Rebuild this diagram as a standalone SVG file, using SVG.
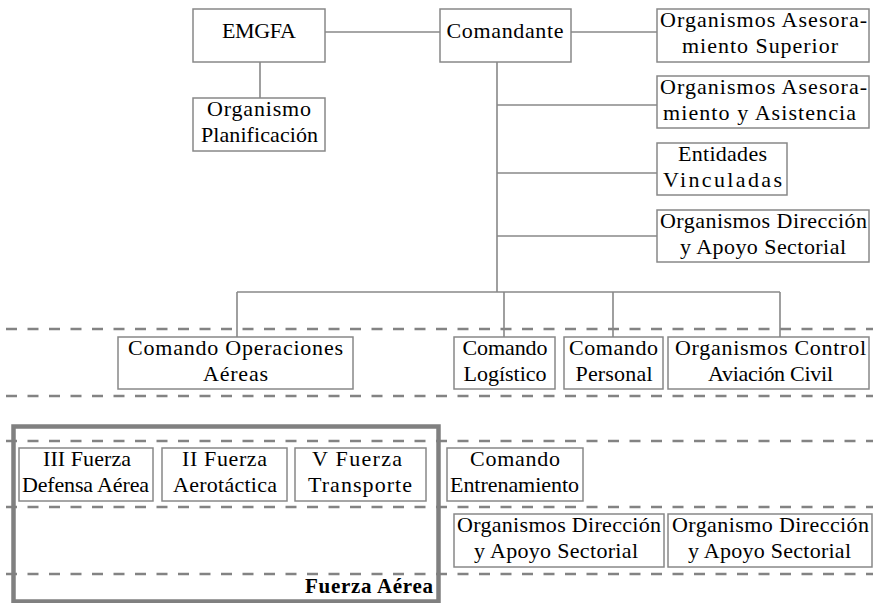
<svg xmlns="http://www.w3.org/2000/svg" width="873" height="603" viewBox="0 0 873 603">
<style>
.bx{fill:#fff;stroke:#888;stroke-width:1.5}
.t{font-family:"Liberation Serif","Times New Roman",serif;font-size:22px;fill:#000;text-anchor:middle}
.b{font-family:"Liberation Serif","Times New Roman",serif;font-size:21px;font-weight:bold;fill:#000;text-anchor:end}
.ln{stroke:#888;stroke-width:1.6;fill:none}
.dash{stroke:#838383;stroke-width:2.6;stroke-dasharray:11 10.5;fill:none}
</style>
<rect width="873" height="603" fill="#fff"/>
<g id="bands">
<line class="dash" x1="6" y1="329" x2="873" y2="329"/>
<line class="dash" x1="6" y1="396" x2="873" y2="396"/>
<line class="dash" x1="6" y1="441" x2="873" y2="441"/>
<line class="dash" x1="6" y1="507" x2="873" y2="507"/>
<line class="dash" x1="6" y1="574" x2="873" y2="574"/>
</g>
<g id="connectors">
<line class="ln" x1="325" y1="32" x2="440" y2="32"/>
<line class="ln" x1="571" y1="32" x2="657" y2="32"/>
<line class="ln" x1="260" y1="62" x2="260" y2="98"/>
<line class="ln" x1="497" y1="62" x2="497" y2="292"/>
<line class="ln" x1="497" y1="105" x2="657" y2="105"/>
<line class="ln" x1="497" y1="173" x2="657" y2="173"/>
<line class="ln" x1="497" y1="236" x2="657" y2="236"/>
<line class="ln" x1="237" y1="292" x2="780" y2="292"/>
<line class="ln" x1="237" y1="292" x2="237" y2="337"/>
<line class="ln" x1="504" y1="292" x2="504" y2="337"/>
<line class="ln" x1="613" y1="292" x2="613" y2="337"/>
<line class="ln" x1="780" y1="292" x2="780" y2="337"/>
</g>
<g id="fuerza-aerea">
<rect x="13.5" y="426.5" width="425" height="175" fill="none" stroke="#808080" stroke-width="4.5"/>
<text class="b" x="433" y="593" textLength="128">Fuerza Aérea</text>
</g>
<g id="emgfa">
<rect class="bx" x="193" y="9" width="132" height="53"/>
<text class="t" x="259" y="38" textLength="74">EMGFA</text>
</g>
<g id="comandante">
<rect class="bx" x="440" y="9" width="131" height="53"/>
<text class="t" x="505" y="38" textLength="117">Comandante</text>
</g>
<g id="org-planificacion">
<rect class="bx" x="193" y="98" width="132" height="53"/>
<text class="t" x="259" y="116" textLength="104">Organismo</text>
<text class="t" x="259.5" y="142" textLength="117">Planificación</text>
</g>
<g id="org-asesor-superior">
<rect class="bx" x="657" y="9" width="212" height="53"/>
<text class="t" x="763.5" y="27" textLength="207">Organismos Asesora-</text>
<text class="t" x="760" y="53" textLength="156">miento Superior</text>
</g>
<g id="org-asesor-asistencia">
<rect class="bx" x="657" y="76" width="212" height="52"/>
<text class="t" x="763.5" y="94" textLength="207">Organismos Asesora-</text>
<text class="t" x="759.5" y="120" textLength="193">miento y Asistencia</text>
</g>
<g id="entidades">
<rect class="bx" x="657" y="143" width="130" height="52"/>
<text class="t" x="722.5" y="161" textLength="89">Entidades</text>
<text class="t" x="722.5" y="187" textLength="119">Vinculadas</text>
</g>
<g id="org-direccion-top">
<rect class="bx" x="657" y="210" width="212" height="52"/>
<text class="t" x="763.5" y="228" textLength="207">Organismos Dirección</text>
<text class="t" x="763" y="254" textLength="166">y Apoyo Sectorial</text>
</g>
<g id="comando-operaciones">
<rect class="bx" x="118" y="337" width="235" height="52"/>
<text class="t" x="235.5" y="355" textLength="215">Comando Operaciones</text>
<text class="t" x="235.5" y="381" textLength="65">Aéreas</text>
</g>
<g id="comando-logistico">
<rect class="bx" x="454" y="337" width="101" height="52"/>
<text class="t" x="505" y="355" textLength="85">Comando</text>
<text class="t" x="505" y="381" textLength="83">Logístico</text>
</g>
<g id="comando-personal">
<rect class="bx" x="564" y="337" width="99" height="52"/>
<text class="t" x="613.5" y="355" textLength="89">Comando</text>
<text class="t" x="614" y="381" textLength="77">Personal</text>
</g>
<g id="org-control">
<rect class="bx" x="668" y="337" width="201" height="52"/>
<text class="t" x="770.5" y="355" textLength="191">Organismos Control</text>
<text class="t" x="770.5" y="381" textLength="125">Aviación Civil</text>
</g>
<g id="iii-fuerza">
<rect class="bx" x="19" y="448" width="134" height="53"/>
<text class="t" x="87" y="466" textLength="88">III Fuerza</text>
<text class="t" x="85.5" y="492" textLength="127">Defensa Aérea</text>
</g>
<g id="ii-fuerza">
<rect class="bx" x="162" y="448" width="125" height="53"/>
<text class="t" x="224.5" y="466" textLength="85">II Fuerza</text>
<text class="t" x="225" y="492" textLength="104">Aerotáctica</text>
</g>
<g id="v-fuerza">
<rect class="bx" x="295" y="448" width="131" height="53"/>
<text class="t" x="357" y="466" textLength="90">V Fuerza</text>
<text class="t" x="360" y="492" textLength="104">Transporte</text>
</g>
<g id="comando-entrenamiento">
<rect class="bx" x="447" y="448" width="136" height="53"/>
<text class="t" x="515" y="466" textLength="90">Comando</text>
<text class="t" x="514.5" y="492" textLength="129">Entrenamiento</text>
</g>
<g id="org-direccion-bottom">
<rect class="bx" x="454" y="514" width="210" height="53"/>
<text class="t" x="559" y="532" textLength="204">Organismos Dirección</text>
<text class="t" x="556" y="558" textLength="164">y Apoyo Sectorial</text>
</g>
<g id="organismo-direccion">
<rect class="bx" x="668" y="514" width="204" height="53"/>
<text class="t" x="770.5" y="532" textLength="197">Organismo Dirección</text>
<text class="t" x="769.5" y="558" textLength="163">y Apoyo Sectorial</text>
</g>
</svg>
